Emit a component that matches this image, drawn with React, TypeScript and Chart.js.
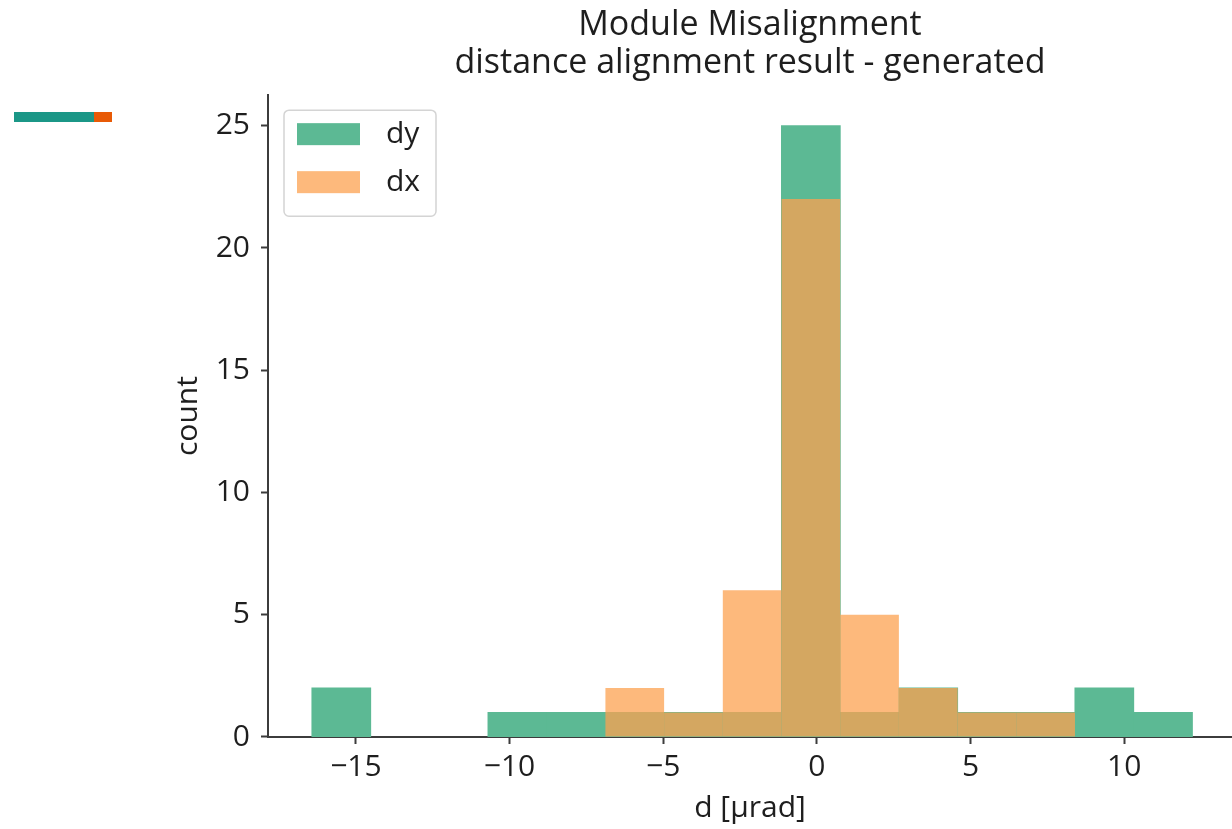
import React, { useEffect, useRef } from 'react';
import { Chart, registerables } from 'chart.js';

Chart.register(...registerables);

const titleLines = ['Module Misalignment', 'distance alignment result - generated'];
const xLabel = 'd [μrad]';
const yLabel = 'count';
const seriesLabels = ['dy', 'dx'];
const binEdges = [-16.43, -14.52, -12.61, -10.7, -8.79, -6.88, -4.97, -3.06, -1.15, 0.76, 2.67, 4.58, 6.49, 8.4, 10.31, 12.22];
const dyCounts = [2, 0, 0, 1, 1, 1, 1, 1, 25, 1, 2, 1, 1, 2, 1];
const dxCounts = [0, 0, 0, 0, 0, 2, 1, 6, 22, 5, 2, 1, 1, 0, 0];
const xTicks = [-15, -10, -5, 0, 5, 10];
const yTicks = [0, 5, 10, 15, 20, 25];
const xRange = [-17.86, 13.51];
const yRange = [0, 26.25];

const FONT = '"Open Sans", sans-serif';
const GREEN = 'rgb(92,185,148)';
const ORANGE = 'rgba(252,162,80,0.75)';
const AXIS = '#3c3c3c';
const TEXT = '#1e1e1e';

const fmt = (v: number) => (v < 0 ? '\u2212' + Math.abs(v) : String(v));

const insideLegend = {
  id: 'insideLegend',
  afterDatasetsDraw(chart: any) {
    const { ctx, chartArea } = chart;
    const x = chartArea.left + 16;
    const y = chartArea.top + 15;
    const w = 152;
    const h = 106;
    ctx.save();
    ctx.beginPath();
    ctx.roundRect(x, y, w, h, 5);
    ctx.fillStyle = 'rgba(255,255,255,0.8)';
    ctx.fill();
    ctx.strokeStyle = '#d4d4d4';
    ctx.lineWidth = 1.5;
    ctx.stroke();
    seriesLabels.forEach((lab, i) => {
      const ds = chart.data.datasets.find((d: any) => d.label === lab);
      const cy = y + 24 + i * 48;
      ctx.fillStyle = ds.backgroundColor;
      ctx.fillRect(x + 13, cy - 11, 63, 22);
      ctx.fillStyle = TEXT;
      ctx.font = `30px ${FONT}`;
      ctx.textBaseline = 'middle';
      ctx.textAlign = 'left';
      ctx.fillText(lab, x + 102, cy);
    });
    ctx.restore();
  },
};

export default function App() {
  const ref = useRef<HTMLCanvasElement>(null);
  useEffect(() => {
    const centers = binEdges.slice(0, -1).map((e, i) => (e + binEdges[i + 1]) / 2);
    const toPoints = (counts: number[]) => centers.map((x, i) => ({ x, y: counts[i] > 0 ? counts[i] : null }));
    const common = {
      barPercentage: 1,
      categoryPercentage: 1,
      grouped: false,
      borderWidth: 0,
      skipNull: true,
    };
    const chart = new Chart(ref.current as HTMLCanvasElement, {
      type: 'bar',
      data: {
        datasets: [
          { ...common, inflateAmount: 0.5, label: seriesLabels[0], order: 2, backgroundColor: GREEN, data: toPoints(dyCounts) },
          { ...common, inflateAmount: 0, label: seriesLabels[1], order: 1, backgroundColor: ORANGE, data: toPoints(dxCounts) },
        ] as any,
      },
      options: {
        animation: false,
        responsive: false,
        devicePixelRatio: 1,
        layout: { padding: 0 },
        plugins: {
          legend: { display: false },
          tooltip: { enabled: false },
          title: {
            display: true,
            text: titleLines,
            fullSize: false,
            color: TEXT,
            font: { family: FONT, size: 34, weight: 'normal', lineHeight: 1.12 },
            padding: { top: 6, bottom: 13 },
          },
        },
        scales: {
          x: {
            type: 'linear',
            offset: false,
            min: xRange[0],
            max: xRange[1],
            afterBuildTicks: (s: any) => {
              s.ticks = xTicks.map((v) => ({ value: v }));
            },
            afterFit: (s: any) => {
              s.height = 92;
            },
            grid: { offset: false, drawOnChartArea: false, drawTicks: true, tickLength: 7, tickWidth: 2, tickColor: AXIS },
            border: { display: true, color: AXIS, width: 2 },
            ticks: { font: { family: FONT, size: 30 }, color: TEXT, padding: 5, maxRotation: 0, autoSkip: false, callback: (v: any) => fmt(Number(v)) },
            title: { display: true, text: xLabel, color: TEXT, font: { family: FONT, size: 30 }, padding: { top: 0, bottom: 3 } },
          },
          y: {
            type: 'linear',
            min: yRange[0],
            max: yRange[1],
            afterBuildTicks: (s: any) => {
              s.ticks = yTicks.map((v) => ({ value: v }));
            },
            afterFit: (s: any) => {
              s.width = 268;
            },
            grid: { drawOnChartArea: false, drawTicks: true, tickLength: 7, tickWidth: 2, tickColor: AXIS },
            border: { display: true, color: AXIS, width: 2 },
            ticks: { font: { family: FONT, size: 30 }, color: TEXT, padding: 11, callback: (v: any) => fmt(Number(v)) },
            title: { display: true, text: yLabel, color: TEXT, font: { family: FONT, size: 30 }, padding: { top: 170, bottom: 0 } },
          },
        },
      } as any,
      plugins: [insideLegend],
    });
    return () => chart.destroy();
  }, []);

  return (
    <div style={{ position: 'absolute', left: 0, top: 0, width: 1232, height: 829, background: '#fff', overflow: 'hidden' }}>
      <canvas ref={ref} width={1232} height={829} style={{ display: 'block', width: 1232, height: 829 }} />
      <div style={{ position: 'absolute', left: 14, top: 112, width: 80, height: 10, background: '#1b9787' }} />
      <div style={{ position: 'absolute', left: 94, top: 112, width: 18, height: 10, background: '#e85a06' }} />
    </div>
  );
}
